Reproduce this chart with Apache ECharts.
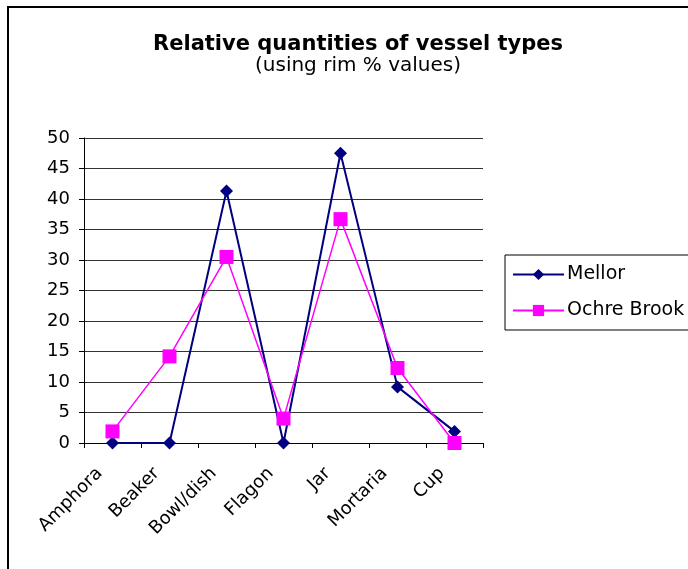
<!DOCTYPE html>
<html>
<head>
<meta charset="utf-8">
<script src="https://cdn.jsdelivr.net/npm/echarts@6/dist/echarts.min.js"></script>
<style>
  html, body { margin: 0; padding: 0; background: #fff; }
  #chart { width: 688px; height: 569px; }
</style>
</head>
<body>
<div id="chart"></div>
<script>
// Vessel type categories along the x axis
const categories = ['Amphora', 'Beaker', 'Bowl/dish', 'Flagon', 'Jar', 'Mortaria', 'Cup'];

// Rim % values per site
const mellor = [0, 0, 41.3, 0, 47.5, 9.2, 1.9];
const ochreBrook = [1.9, 14.2, 30.5, 4.0, 36.7, 12.3, 0];

// Y axis range and step
const yMin = 0;
const yMax = 50;
const yStep = 5;

const font = '"DejaVu Sans", sans-serif';

const chart = echarts.init(document.getElementById('chart'), null, { renderer: 'canvas' });

chart.setOption({
  backgroundColor: '#ffffff',
  animation: false,
  title: {
    text: 'Relative quantities of vessel types',
    subtext: '(using rim % values)',
    left: 353,
    textAlign: 'center',
    top: 29,
    itemGap: 1,
    textStyle: { fontFamily: font, fontSize: 21, fontWeight: 'bold', color: '#000' },
    subtextStyle: { fontFamily: font, fontSize: 20, color: '#000' }
  },
  graphic: [{
    type: 'rect',
    shape: { x: 8, y: 7, width: 700, height: 600 },
    style: { fill: 'none', stroke: '#000', lineWidth: 2 },
    silent: true
  }],
  legend: {
    orient: 'vertical',
    left: 505,
    top: 255,
    width: 180,
    padding: [10, 20, 10, 7],
    itemWidth: 51,
    itemHeight: 14,
    itemGap: 17,
    borderColor: '#000',
    borderWidth: 1,
    textStyle: { fontFamily: font, fontSize: 19, color: '#000', padding: [0, 0, 0, -2] },
    data: ['Mellor', 'Ochre Brook']
  },
  grid: {
    left: 84,
    right: 205,
    top: 138,
    bottom: 126
  },
  xAxis: {
    type: 'category',
    data: categories,
    boundaryGap: true,
    axisLine: { lineStyle: { color: '#000', width: 1 } },
    axisTick: { show: true, length: 5, lineStyle: { color: '#000' } },
    axisLabel: {
      rotate: 45,
      interval: 0,
      margin: 15,
      padding: [0, 18, 0, 0],
      fontFamily: font,
      fontSize: 18,
      color: '#000'
    },
    splitLine: { show: false }
  },
  yAxis: {
    type: 'value',
    min: yMin,
    max: yMax,
    interval: yStep,
    axisLine: { show: true, lineStyle: { color: '#000', width: 1 } },
    axisTick: { show: true, length: 5, lineStyle: { color: '#000' } },
    axisLabel: { margin: 14, fontFamily: font, fontSize: 18, color: '#000' },
    splitLine: { show: true, lineStyle: { color: '#333', width: 1 } }
  },
  series: [
    {
      name: 'Mellor',
      type: 'line',
      data: mellor,
      symbol: 'diamond',
      symbolSize: 13,
      itemStyle: { color: '#000080' },
      lineStyle: { color: '#000080', width: 2 },
      z: 3
    },
    {
      name: 'Ochre Brook',
      type: 'line',
      data: ochreBrook,
      symbol: 'rect',
      symbolSize: 14,
      itemStyle: { color: '#ff00ff' },
      lineStyle: { color: '#ff00ff', width: 1.5 },
      z: 4
    }
  ]
});
</script>
</body>
</html>
